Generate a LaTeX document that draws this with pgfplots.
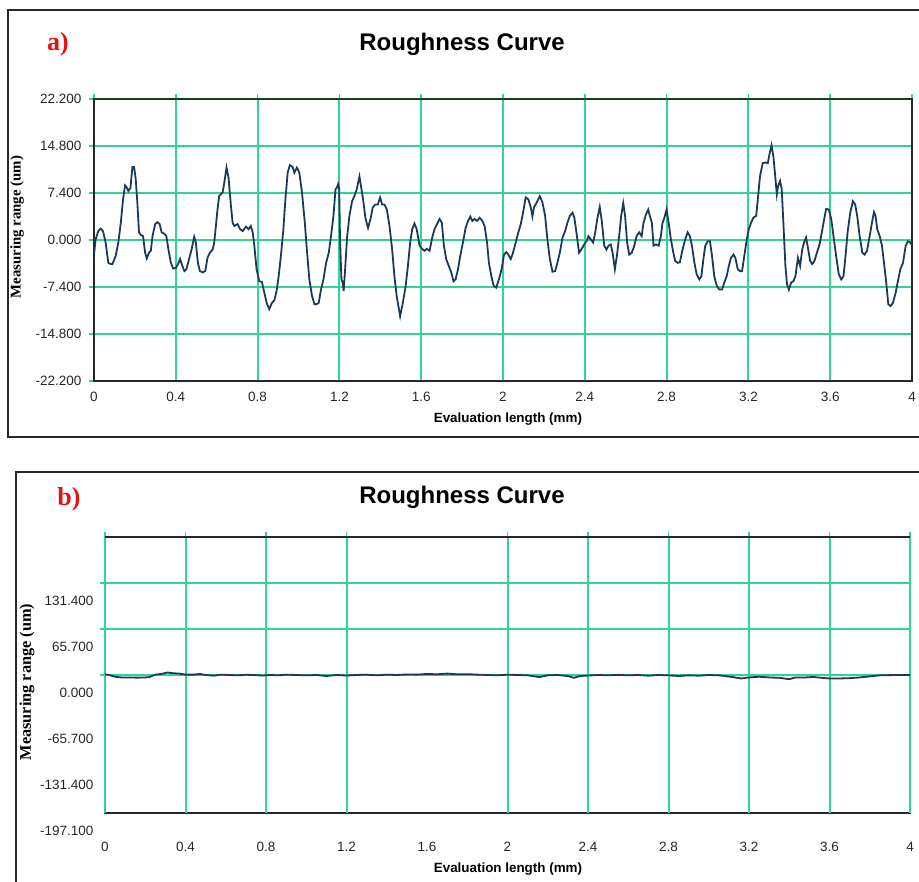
\documentclass[border=0pt]{standalone}
\usepackage{fontspec}
\setmainfont{Liberation Sans}
\newfontfamily\timesf{Liberation Serif}
\usepackage{pgfplots}
\pgfplotsset{compat=1.18}
\definecolor{gridg}{RGB}{45,214,148}
\definecolor{curve}{RGB}{28,58,88}
\definecolor{topg}{RGB}{22,62,28}
\definecolor{lblred}{RGB}{225,20,20}
\begin{document}
\begin{tikzpicture}
\path[use as bounding box] (0,0) rectangle (919pt,882pt);
\draw[line width=2pt, black!85] (8pt,445pt) rectangle (940pt,872pt);
\draw[line width=2pt, black!85] (16pt,-20pt) rectangle (940pt,410pt);
% ---------------- panel a ----------------
\begin{axis}[
  at={(94pt,501pt)}, anchor=south west, scale only axis,
  width=818pt, height=282pt,
  xmin=0, xmax=4, ymin=-22.2, ymax=22.2,
  xtick={0,0.4,0.8,1.2,1.6,2,2.4,2.8,3.2,3.6,4},
  xticklabels={0,0.4,0.8,1.2,1.6,2,2.4,2.8,3.2,3.6,4},
  ytick={-22.2,-14.8,-7.4,0,7.4,14.8,22.2},
  yticklabels={-22.200,-14.800,-7.400,0.000,7.400,14.800,22.200},
  grid=major, major grid style={gridg, line width=2pt},
  axis line style={black!85, line width=2.5pt},
  tick style={gridg, line width=1.5pt}, tick align=outside, major tick length=5pt,
  xtick pos=upper, xticklabel pos=lower, ytick pos=left,
  ticklabel style={font=\fontsize{13.5}{13.5}\selectfont, text=black!85},
  xticklabel style={yshift=-3pt},
  yticklabel style={xshift=-4pt},
  title={Roughness Curve},
  title style={at={(axis description cs:0.45,1.174)}, anchor=center, font=\bfseries\fontsize{24}{24}\selectfont},
  xlabel={Evaluation length (mm)},
  xlabel style={at={(axis description cs:0.506,-0.135)}, anchor=center, font=\bfseries\fontsize{13.4}{13.4}\selectfont},
  ylabel={Measuring range (um)},
  ylabel style={at={(axis description cs:-0.094,0.546)}, anchor=center, font=\timesf\bfseries\fontsize{14.8}{14.8}\selectfont},
  clip mode=individual,
]
\addplot[curve, line width=1.8pt] coordinates {
(0,-2.3)(0.008,0.1)(0.021,1.4)(0.033,1.8)(0.044,1.4)(0.057,-0.4)(0.070,-3.6)(0.082,-3.8)(0.09,-3.8)
(0.106,-2.5)(0.119,-0.4)(0.131,2.7)(0.142,6.4)(0.152,8.6)(0.158,8.4)(0.168,7.7)(0.178,8.2)(0.188,11.5)
(0.196,11.5)(0.204,9.6)(0.212,5.9)(0.220,1.2)(0.229,0.8)(0.240,0.6)(0.250,-2.0)(0.258,-2.9)(0.269,-2.0)
(0.278,-1.7)(0.286,0.6)(0.299,2.5)(0.310,2.8)(0.321,2.5)(0.331,1.2)(0.343,1.0)(0.354,0.6)(0.364,-1.5)
(0.376,-3.6)(0.387,-4.5)(0.400,-4.4)(0.411,-3.8)(0.421,-3.0)(0.429,-3.8)(0.442,-4.9)(0.452,-4.6)(0.465,-3.0)
(0.477,-1.5)(0.490,0.5)(0.498,-0.4)(0.508,-3.6)(0.518,-4.9)(0.531,-5.1)(0.544,-4.9)(0.555,-2.8)(0.567,-2.0)
(0.580,-1.5)(0.588,-0.4)(0.596,2.2)(0.604,4.8)(0.612,6.9)(0.620,7.2)(0.629,7.5)(0.637,9.0)(0.648,11.4)
(0.658,9.8)(0.669,5.6)(0.678,2.7)(0.686,2.2)(0.702,2.5)(0.715,1.7)(0.727,1.4)(0.743,2.1)(0.756,1.7)
(0.767,2.2)(0.776,1.2)(0.784,-0.9)(0.795,-4.6)(0.808,-6.5)(0.821,-6.6)(0.833,-8.3)(0.844,-9.9)(0.857,-10.9)
(0.870,-9.9)(0.882,-9.5)(0.893,-8.0)(0.903,-5.7)(0.914,-2.5)(0.926,1.7)(0.936,6.4)(0.947,10.6)(0.958,11.8)
(0.971,11.5)(0.980,10.6)(0.992,11.4)(1.004,10.6)(1.017,7.5)(1.031,2.7)(1.042,-2.0)(1.053,-6.2)(1.066,-8.8)
(1.078,-10.1)(1.089,-10.1)(1.099,-9.9)(1.110,-7.8)(1.122,-6.2)(1.135,-3.6)(1.148,-2.0)(1.159,0.6)(1.171,3.8)
(1.181,8.0)(1.187,8.2)(1.194,8.8)(1.199,8.0)(1.203,0.1)(1.210,-6.2)(1.216,-6.7)(1.221,-8.0)(1.228,-4.6)
(1.238,0.6)(1.249,3.8)(1.262,6.1)(1.273,6.9)(1.285,8.0)(1.298,10.0)(1.308,8.0)(1.318,5.9)(1.327,3.5)
(1.340,1.9)(1.352,3.3)(1.363,5.1)(1.376,5.6)(1.388,5.6)(1.399,6.7)(1.409,5.6)(1.420,5.6)(1.432,4.8)
(1.445,2.2)(1.458,-1.5)(1.469,-5.7)(1.480,-8.8)(1.497,-12.0)(1.510,-9.9)(1.523,-7.5)(1.535,-4.1)(1.546,-0.4)
(1.556,1.7)(1.567,2.6)(1.578,1.7)(1.592,-0.9)(1.605,-1.4)(1.616,-1.7)(1.627,-1.4)(1.641,-1.7)(1.654,0.4)
(1.665,1.7)(1.677,2.5)(1.690,3.3)(1.701,2.7)(1.711,-0.9)(1.722,-3.0)(1.735,-4.1)(1.747,-5.1)(1.758,-6.5)
(1.768,-6.2)(1.780,-4.6)(1.791,-2.5)(1.804,-0.4)(1.817,1.9)(1.829,3.0)(1.840,3.7)(1.850,3.0)(1.861,3.3)
(1.873,3.0)(1.886,3.5)(1.899,3.0)(1.910,2.2)(1.922,-0.4)(1.931,-3.6)(1.943,-5.7)(1.954,-7.2)(1.967,-7.5)
(1.980,-6.2)(1.993,-4.6)(2.005,-2.3)(2.016,-1.9)(2.026,-2.3)(2.038,-3.0)(2.049,-2.0)(2.062,-0.4)(2.075,1.2)
(2.087,2.5)(2.098,4.3)(2.111,6.7)(2.124,6.4)(2.136,5.1)(2.144,3.7)(2.152,5.2)(2.165,5.9)(2.180,6.9)
(2.193,5.9)(2.206,3.8)(2.217,0.1)(2.229,-3.0)(2.242,-5.0)(2.255,-4.9)(2.266,-3.6)(2.278,-2.0)(2.291,0.4)
(2.304,1.4)(2.315,2.7)(2.327,3.8)(2.340,4.3)(2.349,3.5)(2.359,1.2)(2.372,-2.0)(2.385,-1.4)(2.397,-0.7)
(2.408,-0.2)(2.418,0.6)(2.429,0.1)(2.441,-0.4)(2.451,1.2)(2.462,3.5)(2.473,5.2)(2.483,3.0)(2.495,-0.9)
(2.506,-1.5)(2.516,-0.9)(2.527,-0.7)(2.536,-2.0)(2.547,-4.6)(2.557,-2.5)(2.568,0.6)(2.578,3.8)(2.588,5.8)
(2.597,3.8)(2.607,-0.4)(2.617,-2.3)(2.630,-2.0)(2.642,-0.9)(2.653,0.6)(2.666,1.2)(2.678,0.6)(2.687,2.7)
(2.699,4.0)(2.710,4.8)(2.718,3.8)(2.728,2.7)(2.736,-0.9)(2.748,-0.7)(2.761,-0.9)(2.772,0.6)(2.780,2.7)
(2.789,3.5)(2.800,4.8)(2.810,2.7)(2.821,0.1)(2.833,-2.0)(2.842,-3.3)(2.854,-3.6)(2.865,-3.5)(2.878,-1.5)
(2.891,0.1)(2.903,1.2)(2.914,0.6)(2.924,-0.9)(2.936,-3.6)(2.947,-5.4)(2.960,-6.2)(2.970,-5.7)(2.980,-3.0)
(2.989,-0.9)(3.001,-0.2)(3.012,-0.2)(3.022,-2.5)(3.033,-5.7)(3.045,-7.2)(3.058,-7.8)(3.071,-7.8)(3.082,-6.7)
(3.094,-5.7)(3.104,-4.1)(3.115,-2.8)(3.127,-2.3)(3.136,-2.8)(3.148,-4.6)(3.159,-4.9)(3.169,-4.9)(3.180,-2.5)
(3.192,0.1)(3.202,1.7)(3.213,2.7)(3.224,3.5)(3.238,3.8)(3.246,6.4)(3.257,10.1)(3.270,12.1)(3.283,12.2)
(3.295,12.1)(3.303,13.5)(3.313,14.9)(3.322,13.2)(3.331,10.1)(3.339,7.2)(3.345,8.5)(3.355,9.3)(3.363,8.0)
(3.371,2.7)(3.381,-4.1)(3.389,-7.0)(3.398,-7.8)(3.409,-6.7)(3.420,-6.5)(3.430,-5.7)(3.442,-2.8)(3.453,-4.1)
(3.463,-1.5)(3.474,-0.2)(3.482,0.4)(3.491,-1.2)(3.502,-3.3)(3.512,-3.8)(3.523,-3.3)(3.535,-2.0)(3.548,-0.7)
(3.559,1.2)(3.569,3.0)(3.580,4.9)(3.593,4.8)(3.605,3.3)(3.616,0.6)(3.629,-2.5)(3.642,-5.4)(3.654,-6.2)
(3.665,-5.7)(3.675,-2.5)(3.685,1.2)(3.698,4.3)(3.711,6.1)(3.722,5.6)(3.732,3.8)(3.744,0.6)(3.757,-2.0)
(3.768,-2.3)(3.780,-1.7)(3.793,0.6)(3.804,2.7)(3.814,4.4)(3.822,3.8)(3.830,1.7)(3.842,0.6)(3.853,-0.9)
(3.863,-3.6)(3.874,-6.7)(3.884,-10.1)(3.895,-10.4)(3.907,-9.9)(3.920,-8.3)(3.931,-6.5)(3.943,-4.6)(3.956,-3.6)
(3.969,-0.9)(3.980,-0.2)(3.992,-0.4)(4.0,-0.9)
};
\draw[topg, line width=2.5pt] (rel axis cs:0,1) -- (rel axis cs:1,1);
\end{axis}
\node[text=lblred, font=\timesf\bfseries\fontsize{26}{26}\selectfont] at (58pt,838pt) {a)};
% ---------------- panel b ----------------
\begin{axis}[
  at={(105pt,69pt)}, anchor=south west, scale only axis,
  width=805pt, height=276pt,
  xmin=0, xmax=4, ymin=-197.1, ymax=197.1,
  xtick={0,0.4,0.8,1.2,1.6,2,2.4,2.8,3.2,3.6,4},
  xticklabels={0,0.4,0.8,1.2,1.6,2,2.4,2.8,3.2,3.6,4},
  ytick={-197.1,-131.4,-65.7,0,65.7,131.4},
  yticklabels={-197.100,-131.400,-65.700,0.000,65.700,131.400},
  extra x ticks={0,0.4,0.8,1.2,2,2.4,2.8,3.2,3.6,4},
  extra x tick labels={},
  extra x tick style={grid=major, xtick style={draw=gridg}},
  extra y ticks={0,65.7,131.4},
  extra y tick labels={},
  extra y tick style={grid=major, ytick style={draw=gridg}},
  major grid style={gridg, line width=2pt},
  axis line style={black!85, line width=2.5pt},
  tick style={line width=1.5pt}, tick align=outside, major tick length=5pt,
  xtick style={draw=none}, ytick style={draw=none},
  xtick pos=upper, xticklabel pos=lower, ytick pos=left,
  ticklabel style={font=\fontsize{13.5}{13.5}\selectfont, text=black!85},
  xticklabel style={yshift=-21pt},
  yticklabel style={yshift=-17.5pt, xshift=-3pt},
  title={Roughness Curve},
  title style={at={(axis description cs:0.4435,1.123)}, anchor=center, font=\bfseries\fontsize{24}{24}\selectfont},
  xlabel={Evaluation length (mm)},
  xlabel style={at={(axis description cs:0.5006,-0.203)}, anchor=center, font=\bfseries\fontsize{13.4}{13.4}\selectfont},
  ylabel={Measuring range (um)},
  ylabel style={at={(axis description cs:-0.0969,0.4746)}, anchor=center, font=\timesf\bfseries\fontsize{16.3}{16.3}\selectfont},
  clip mode=individual,
]
\addplot[curve, line width=1.8pt] coordinates {
(0,1)(0.02,0)(0.05,-2.5)(0.08,-3.5)(0.12,-3.5)(0.16,-3.8)(0.2,-3.5)(0.22,-3)(0.25,0.5)(0.28,1.5)
(0.31,3.5)(0.34,2.5)(0.37,2)(0.40,0.5)(0.44,0.5)(0.47,1.5)(0.5,0)(0.54,-1)(0.58,0.5)(0.62,0)
(0.66,-0.5)(0.70,0.3)(0.74,0)(0.78,-0.8)(0.82,0)(0.86,-0.5)(0.9,0.5)(0.95,0)(1.0,-0.5)(1.05,0)
(1.10,-1.5)(1.15,0)(1.2,-0.8)(1.25,0)(1.3,0.5)(1.35,-0.5)(1.4,0.5)(1.45,0)(1.5,0.8)(1.55,0.5)
(1.6,1.5)(1.65,1)(1.7,2)(1.75,1)(1.8,1.2)(1.85,0.5)(1.9,0)(1.95,-0.5)(2.0,0.5)(2.05,0)
(2.1,-0.5)(2.16,-3)(2.2,-0.5)(2.25,0)(2.3,-1.5)(2.33,-4)(2.36,-1.5)(2.4,-0.8)(2.45,0)(2.5,-0.5)
(2.55,0.2)(2.6,-0.5)(2.65,0)(2.7,-1)(2.75,0)(2.8,-0.5)(2.85,-1.5)(2.9,-0.5)(2.95,-1)(3.0,0)
(3.05,-0.5)(3.08,-1.5)(3.12,-3)(3.16,-5)(3.2,-3.5)(3.25,-2.5)(3.3,-3.5)(3.35,-4)(3.40,-6)(3.43,-3.5)
(3.48,-3.5)(3.52,-2.8)(3.56,-4)(3.6,-5)(3.65,-5)(3.7,-4.5)(3.75,-3.5)(3.8,-2)(3.85,-0.5)(3.9,-0.2)
(3.95,0)(4.0,0)
};
\draw[black!85, line width=2.5pt] (rel axis cs:0,1) -- (rel axis cs:1,1);
\end{axis}
\node[text=lblred, font=\timesf\bfseries\fontsize{26}{26}\selectfont] at (69pt,383pt) {b)};
\end{tikzpicture}
\end{document}
